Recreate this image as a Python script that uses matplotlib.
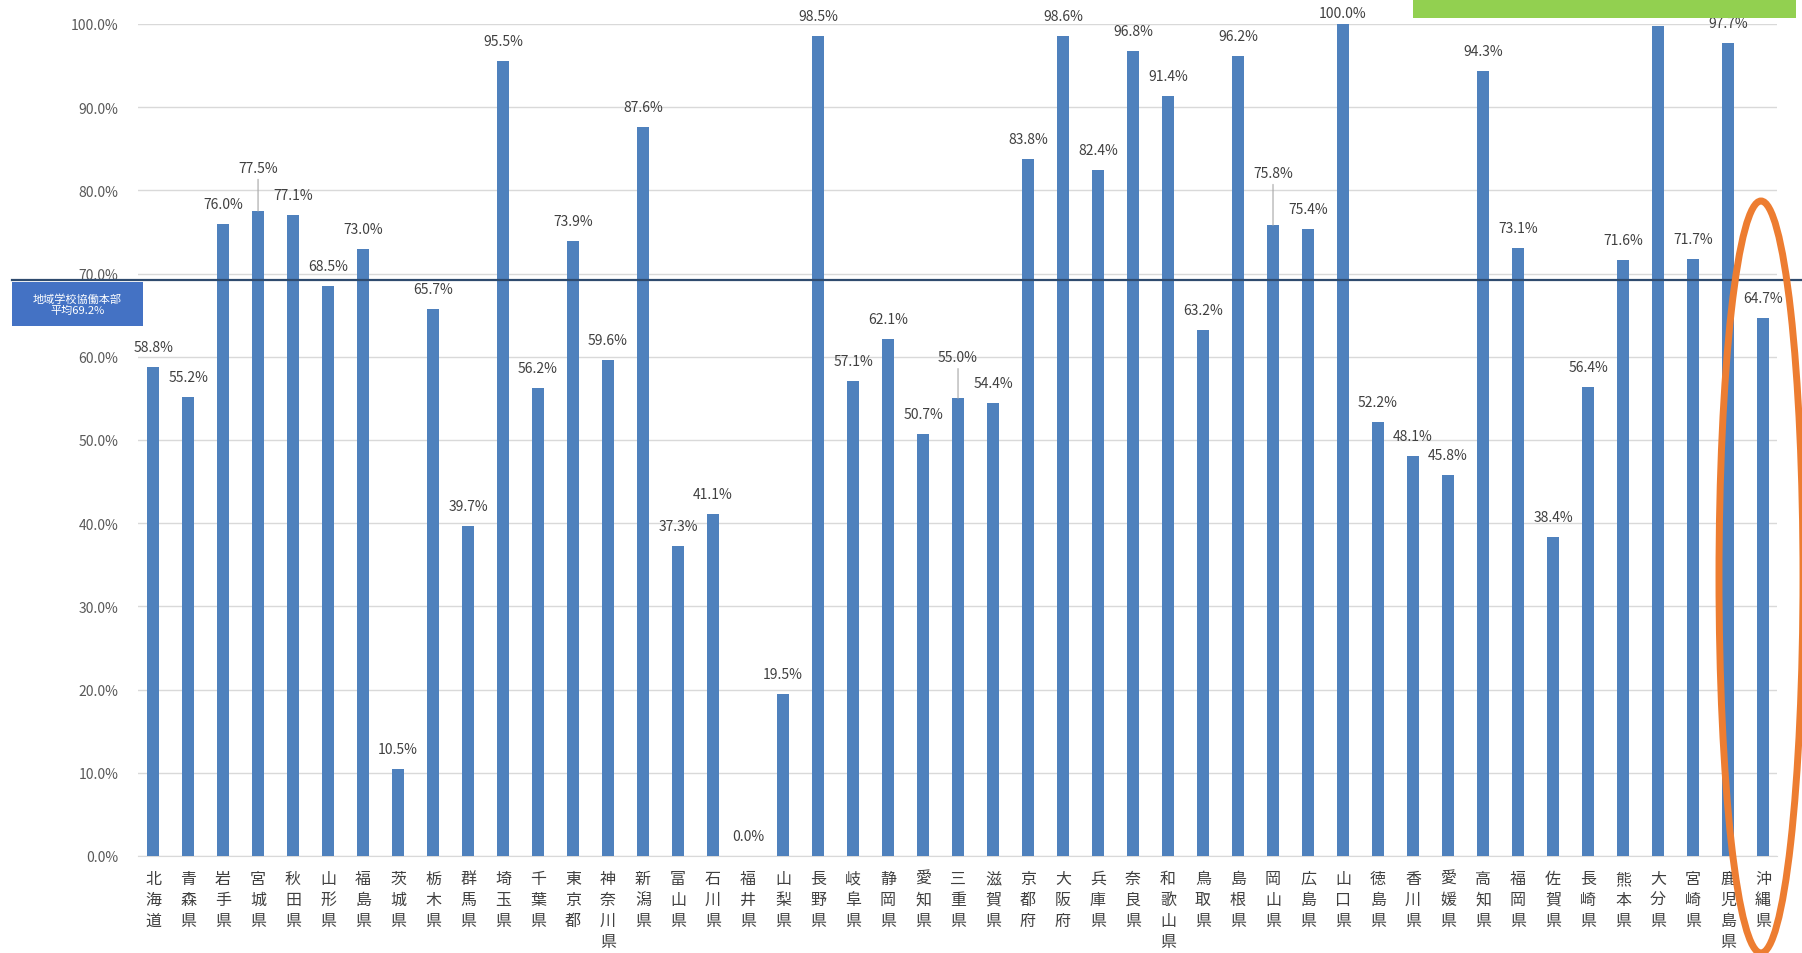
import matplotlib
matplotlib.use("Agg")
import matplotlib.pyplot as plt
from matplotlib.patches import Ellipse, Rectangle

plt.rcParams['font.family'] = ['Noto Sans CJK JP', 'DejaVu Sans']

# prefecture names and rates (%)
prefectures = ['北海道', '青森県', '岩手県', '宮城県', '秋田県', '山形県', '福島県',
               '茨城県', '栃木県', '群馬県', '埼玉県', '千葉県', '東京都', '神奈川県',
               '新潟県', '富山県', '石川県', '福井県', '山梨県', '長野県', '岐阜県',
               '静岡県', '愛知県', '三重県', '滋賀県', '京都府', '大阪府', '兵庫県',
               '奈良県', '和歌山県', '鳥取県', '島根県', '岡山県', '広島県', '山口県',
               '徳島県', '香川県', '愛媛県', '高知県', '福岡県', '佐賀県', '長崎県',
               '熊本県', '大分県', '宮崎県', '鹿児島県', '沖縄県']
rates = [58.8, 55.2, 76.0, 77.5, 77.1, 68.5, 73.0,
         10.5, 65.7, 39.7, 95.5, 56.2, 73.9, 59.6,
         87.6, 37.3, 41.1, 0.0, 19.5, 98.5, 57.1,
         62.1, 50.7, 55.0, 54.4, 83.8, 98.6, 82.4,
         96.8, 91.4, 63.2, 96.2, 75.8, 75.4, 100.0,
         52.2, 48.1, 45.8, 94.3, 73.1, 38.4, 56.4,
         71.6, 99.7, 71.7, 97.7, 64.7]
average = 69.2
avg_label = '地域学校協働本部\n平均69.2%'
yticks = [0, 10, 20, 30, 40, 50, 60, 70, 80, 90, 100]

# labels that Excel pushed up with a leader line
leader_offsets = {'宮城県': 31, '三重県': 29.5, '岡山県': 37.5}
# labels squeezed down to stay inside the chart
tight_offsets = {'山口県': 8}

W, H = 1802, 954
fig = plt.figure(figsize=(W / 100, H / 100), dpi=100)
fig.patch.set_facecolor('white')

ax = fig.add_axes([138 / W, 1 - 857 / H, (1777 - 138) / W, (857 - 25) / H])
x = list(range(len(prefectures)))
ax.bar(x, rates, width=0.34, color='#4f81bd', zorder=3)

ax.set_xlim(-0.43, 46.4)
ax.set_ylim(0, 100)
ax.set_yticks(yticks)
ax.set_yticklabels([f'{t:.1f}%' for t in yticks], fontsize=10, color='#595959')
ax.set_xticks(x)
ax.set_xticklabels(['\n'.join(p) for p in prefectures], fontsize=11.5,
                   color='#404040', linespacing=1.32, va='top')
ax.tick_params(axis='y', length=0, pad=14)
ax.tick_params(axis='x', length=0, pad=10)
ax.grid(axis='y', color='#d9d9d9', linewidth=1.0, zorder=0)
for s in ['top', 'right', 'left']:
    ax.spines[s].set_visible(False)
ax.spines['bottom'].set_color('#d9d9d9')

for i, (name, v) in enumerate(zip(prefectures, rates)):
    if name in leader_offsets:
        ax.annotate(f'{v:.1f}%', xy=(i, v), xytext=(0, leader_offsets[name]),
                    textcoords='offset points', ha='center', va='center',
                    fontsize=10, color='#404040', zorder=4, annotation_clip=False,
                    arrowprops=dict(arrowstyle='-', color='#a6a6a6', lw=0.8,
                                    shrinkA=1, shrinkB=0))
    else:
        ax.annotate(f'{v:.1f}%', xy=(i, v), xytext=(0, tight_offsets.get(name, 14.4)),
                    textcoords='offset points', ha='center', va='center',
                    fontsize=10, color='#404040', zorder=4, annotation_clip=False)

# average line running past both ends of the plot
ax.axhline(average, xmin=(12 - 138) / (1777 - 138), xmax=(1802 - 138) / (1777 - 138),
           color='#2f4b6e', linewidth=1.6, clip_on=False, zorder=5)

# overlay in pixel coordinates for the callouts
ov = fig.add_axes([0, 0, 1, 1])
ov.set_xlim(0, W)
ov.set_ylim(H, 0)
ov.axis('off')
ov.patch.set_alpha(0)

ov.add_patch(Rectangle((12, 283), 131, 44, facecolor='#4472c4', edgecolor='none'))
ov.text(77.5, 305, avg_label, ha='center', va='center', color='white',
        fontsize=8, linespacing=1.2)

ov.add_patch(Rectangle((1413, 0), 383, 19, facecolor='#92d050', edgecolor='none'))
ov.add_patch(Ellipse((1761, 578), 84, 752, facecolor='none',
                     edgecolor='#ed7d31', linewidth=5))

fig.savefig('out.png', dpi=100)
plt.close(fig)
